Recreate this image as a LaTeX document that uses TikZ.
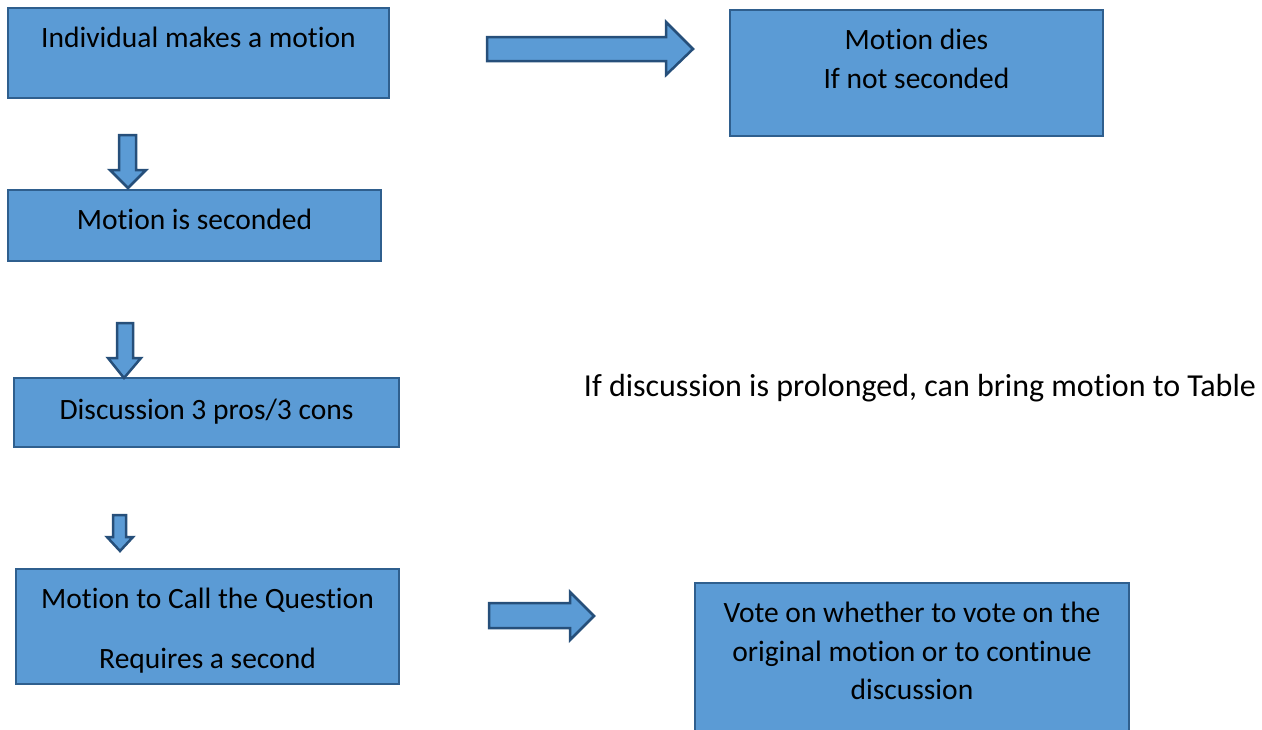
\documentclass[tikz,border=0pt]{standalone}
\usepackage{fontspec}
\setmainfont{Carlito}[Ligatures=NoCommon]
\definecolor{boxfill}{HTML}{5B9BD5}
\definecolor{boxline}{HTML}{2F5F8E}
\definecolor{arrline}{HTML}{264F7A}
\begin{document}
\begin{tikzpicture}[x=1pt,y=-1pt,
  box/.style={draw=boxline,line width=2pt,fill=boxfill},
  blk/.style={draw=arrline,line width=2.5pt,fill=boxfill,line join=miter},
  txt/.style={font=\fontsize{29.5}{34}\selectfont,text=black,inner sep=0pt,anchor=base}]
\useasboundingbox (0,0) rectangle (1262,729);
% boxes
\path[box] (8,8) rectangle (389,98);
\node[txt] (t1) at (198.5,47) {Individual makes a motion};
\path[box] (730,10) rectangle (1103,136);
\node[txt] (t2a) at (916.5,49) {Motion dies};
\node[txt] (t2b) at (916.5,88) {If not seconded};
\path[box] (8,190) rectangle (381,261);
\node[txt] (t3) at (194.5,229) {Motion is seconded};
\path[box] (14,378) rectangle (399,447);
\node[txt] (t4) at (206.5,419) {Discussion 3 pros/3 cons};
\path[box] (16,569) rectangle (399,684);
\node[txt] (t5a) at (207.5,608) {Motion to Call the Question};
\node[txt] (t5b) at (207.5,668) {Requires a second};
\path[box] (695,583) rectangle (1129,740);
\node[txt] (t6a) at (912,622) {Vote on whether to vote on the};
\node[txt] (t6b) at (912,661) {original motion or to continue};
\node[txt] (t6c) at (912,699) {discussion};
\node[txt,font=\fontsize{32}{36}\selectfont] (t7) at (920,396) {If discussion is prolonged, can bring motion to Table};
% block arrows
\path[blk] (487,37) -- (666,37) -- (666,22) -- (693,49) -- (666,75) -- (666,61) -- (487,61) -- cycle;
\path[blk] (489,603) -- (570,603) -- (570,592) -- (594,616) -- (570,640) -- (570,628) -- (489,628) -- cycle;
\path[blk] (119,135) -- (136,135) -- (136,170) -- (146,170) -- (128,188) -- (110,170) -- (119,170) -- cycle;
\path[blk] (117,323) -- (133,323) -- (133,358) -- (141,358) -- (124,378) -- (108,358) -- (117,358) -- cycle;
\path[blk] (113,515) -- (126,515) -- (126,537) -- (133,537) -- (120,551) -- (107,537) -- (113,537) -- cycle;
\end{tikzpicture}
\end{document}
